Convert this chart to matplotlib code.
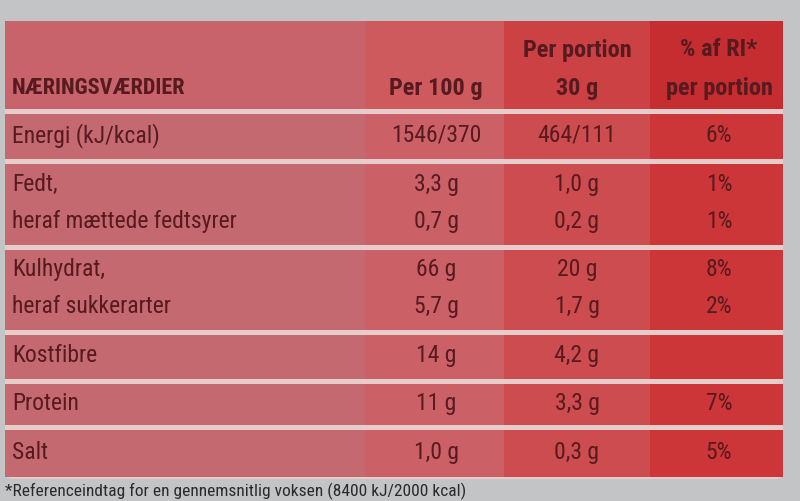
import matplotlib.pyplot as plt
from matplotlib.patches import Rectangle, FancyBboxPatch

# table content
header_label = 'NÆRINGSVÆRDIER'
head_top = ['', 'Per portion', '% af RI*']
head_bottom = ['Per 100 g', '30 g', 'per portion']
row_labels = [['Energi (kJ/kcal)'],
              ['Fedt,', 'heraf mættede fedtsyrer'],
              ['Kulhydrat,', 'heraf sukkerarter'],
              ['Kostfibre'],
              ['Protein'],
              ['Salt']]
per_100g = [['1546/370'], ['3,3 g', '0,7 g'], ['66 g', '5,7 g'], ['14 g'], ['11 g'], ['1,0 g']]
per_portion = [['464/111'], ['1,0 g', '0,2 g'], ['20 g', '1,7 g'], ['4,2 g'], ['3,3 g'], ['0,3 g']]
pct_ri = [['6%'], ['1%', '1%'], ['8%', '2%'], [''], ['7%'], ['5%']]
footnote = '*Referenceindtag for en gennemsnitlig voksen (8400 kJ/2000 kcal)'

# layout (pixels)
col_edges = [5, 365, 504, 650, 783]
row_edges = [(22, 110), (115, 160), (165, 246), (251, 331), (336, 380), (385, 426), (431, 478)]
col_centers = [436, 577, 719]

body_colors = ['#c56971', '#cb6166', '#cd4c4f', '#cc3639']
head_colors = ['#c8636b', '#cf5a5d', '#cc4144', '#c62d31']
sep_color = '#e6cccb'
ink = '#561a1f'
font = ['Roboto Condensed', 'Liberation Sans Narrow', 'Liberation Sans']

fig = plt.figure(figsize=(8, 5.02), dpi=100)
fig.patch.set_facecolor('#c3c4c6')
ax = fig.add_axes([0, 0, 1, 1])
ax.set_xlim(0, 800)
ax.set_ylim(502, 0)
ax.axis('off')

# separator base with rounded top right corner
ax.add_patch(FancyBboxPatch((col_edges[0], 22), col_edges[-1] - col_edges[0], 458,
                            boxstyle='round,pad=0,rounding_size=8', fc=sep_color, ec='none'))

for i, (top, bot) in enumerate(row_edges):
    colors = head_colors if i == 0 else body_colors
    for j in range(4):
        ax.add_patch(Rectangle((col_edges[j], top), col_edges[j + 1] - col_edges[j], bot - top,
                               fc=colors[j], ec='none'))

# header text
ax.text(12, 88, header_label, ha='left', va='center', fontsize=16, fontweight='bold',
        color=ink, family=font)
for x, t, b in zip(col_centers, head_top, head_bottom):
    ax.text(x, 50, t, ha='center', va='center', fontsize=17.5, fontweight='bold',
            color=ink, family=font)
    ax.text(x, 89, b, ha='center', va='center', fontsize=17.5, fontweight='bold',
            color=ink, family=font)

# body text
for i, (top, bot) in enumerate(row_edges[1:]):
    n = len(row_labels[i])
    mid = (top + bot) / 2
    ys = [mid - 2] if n == 1 else [mid - 21, mid + 16]
    for k, y in enumerate(ys):
        ax.text(12, y, row_labels[i][k], ha='left', va='center', fontsize=17, color=ink, family=font)
        for x, col in zip(col_centers, [per_100g, per_portion, pct_ri]):
            ax.text(x, y, col[i][k], ha='center', va='center', fontsize=17, color=ink, family=font)

ax.text(5, 483, footnote, ha='left', va='top', fontsize=12.5, color='#2a2a2a', family=font)

fig.savefig('out.png', dpi=100, facecolor=fig.get_facecolor())
